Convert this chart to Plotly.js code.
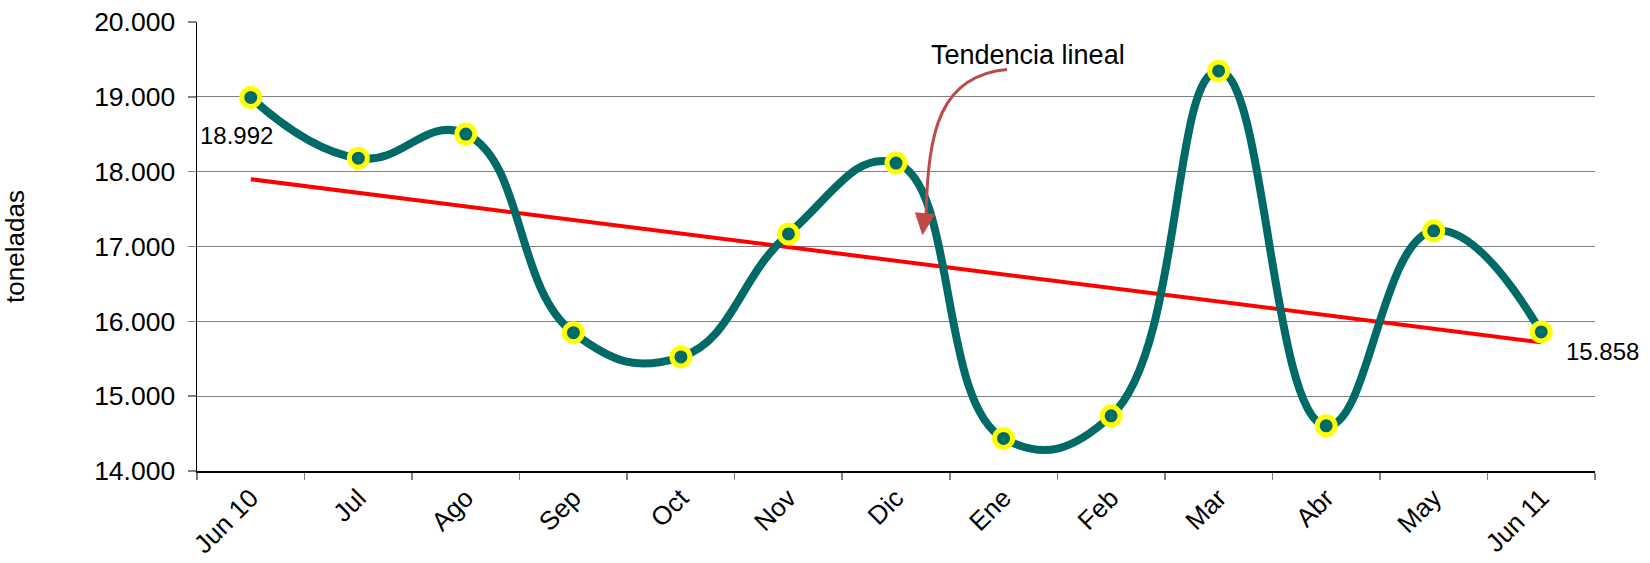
<!DOCTYPE html>
<html>
<head>
<meta charset="utf-8">
<script src="https://cdn.plot.ly/plotly-3.0.1.min.js"></script>
<style>html,body{margin:0;padding:0;background:#fff;}#chart{width:1650px;height:563px;}</style>
</head>
<body>
<div id="chart"></div>
<script>
const categories = ["Jun 10","Jul","Ago","Sep","Oct","Nov","Dic","Ene","Feb","Mar","Abr","May","Jun 11"];
const toneladas = [18992,18180,18503,15848,15524,17168,18115,14435,14737,19346,14604,17210,15858];
const yTicks = [14000,15000,16000,17000,18000,19000,20000];

// linear trend (least squares) from the series
const n = toneladas.length;
const idx = toneladas.map((_, i) => i);
const mx = idx.reduce((a,b)=>a+b,0)/n;
const my = toneladas.reduce((a,b)=>a+b,0)/n;
let sxy = 0, sxx = 0;
idx.forEach((x,i)=>{ sxy += (x-mx)*(toneladas[i]-my); sxx += (x-mx)*(x-mx); });
const slope = sxy/sxx, icpt = my - slope*mx;
const trend = idx.map(x => icpt + slope*x);

const font = "Liberation Sans, Arial, sans-serif";
const teal = "#006A66";

const traces = [
  {x: categories, y: trend, type: "scatter", mode: "lines",
   line: {color: "#FF0000", width: 4}, hoverinfo: "skip"},
  {x: categories, y: toneladas, type: "scatter", mode: "lines+markers",
   line: {color: teal, width: 8, shape: "spline", smoothing: 1.3},
   marker: {color: teal, size: 18, line: {color: "#FFFF00", width: 5}}}
];

const layout = {
  width: 1650, height: 563,
  margin: {l: 197, r: 55, t: 21.5, b: 92},
  paper_bgcolor: "#fff", plot_bgcolor: "#fff",
  showlegend: false,
  separators: ",.",
  font: {family: font, color: "#000"},
  xaxis: {
    type: "category", range: [-0.5, 12.5],
    tickangle: -45, tickfont: {size: 26, family: font},
    showgrid: false, showline: true, linecolor: "#000", linewidth: 1.5,
    ticks: "outside", tickson: "boundaries", ticklen: 7, tickcolor: "#808080", tickwidth: 1.5,
    zeroline: false
  },
  yaxis: {
    range: [14000, 20000], tickvals: yTicks, tickformat: ",.0f",
    tickfont: {size: 26.5, family: font},
    showgrid: true, gridcolor: "#808080", gridwidth: 1,
    showline: true, linecolor: "#000", linewidth: 1.5,
    ticks: "outside", ticklen: 8, tickcolor: "#808080", tickwidth: 1.5,
    ticklabelstandoff: 7,
    zeroline: false,
    title: {text: "toneladas", font: {size: 26, family: font}, standoff: 62}
  },
  annotations: [
    {x: categories[0], y: toneladas[0], xref: "x", yref: "y", text: "18.992",
     showarrow: false, font: {size: 24, family: font}, xshift: -14, yshift: -38},
    {x: categories[12], y: toneladas[12], xref: "x", yref: "y", text: "15.858",
     showarrow: false, font: {size: 24, family: font}, xshift: 61, yshift: -20},
    {x: 0.5944, y: 0.9255, xref: "paper", yref: "paper", text: "Tendencia lineal",
     showarrow: false, font: {size: 27, family: font}, xanchor: "center", yanchor: "middle"}
  ],
  shapes: [
    {type: "path", xref: "paper", yref: "paper",
     path: "M 0.5794 0.8943 C 0.5315 0.881, 0.5229 0.7586, 0.5215 0.57",
     line: {color: "#BE4B48", width: 3}},
    {type: "path", xref: "paper", yref: "paper",
     path: "M 0.5140 0.575 L 0.5275 0.571 L 0.5190 0.527 Z",
     fillcolor: "#BE4B48", line: {color: "#BE4B48", width: 1}}
  ]
};

Plotly.newPlot("chart", traces, layout, {displayModeBar: false, staticPlot: true});
</script>
</body>
</html>
